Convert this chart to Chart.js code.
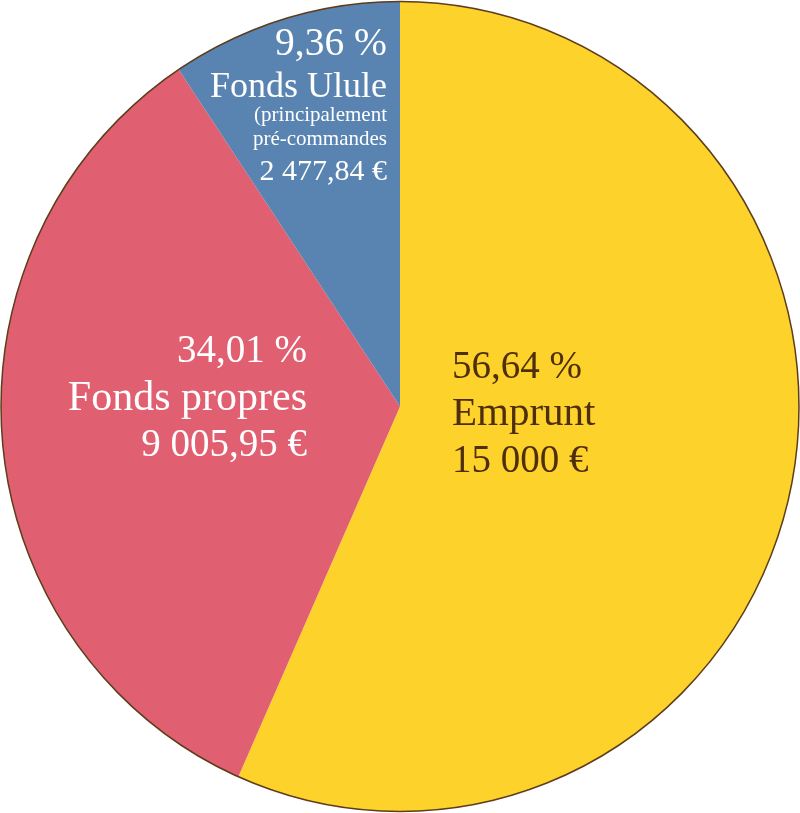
<!DOCTYPE html>
<html>
<head>
<meta charset="utf-8">
<script src="https://cdn.jsdelivr.net/npm/chart.js@4"></script>
<style>
  html, body { margin: 0; padding: 0; background: #ffffff; overflow: hidden; }
  #wrap { width: 800px; height: 813px; }
</style>
</head>
<body>
<div id="wrap"><canvas id="pie"></canvas></div>
<script>
// === Données ===
const categories = ["Emprunt", "Fonds propres", "Fonds Ulule"];
const amounts = [15000, 9005.95, 2477.84];
const percentTexts = ["56,64 %", "34,01 %", "9,36 %"];
const amountTexts = ["15 000 €", "9 005,95 €", "2 477,84 €"];
const ululeNote = ["(principalement", "pré-commandes"];

const colors = ["#fdd22a", "#e06072", "#5983b0"];
const outlineColor = "#5e3d1c";

// le camembert de l'original est un peu plus haut que large
const stretchY = 405 / 399;

const stretchPlugin = {
  id: "stretchY",
  beforeDatasetsDraw(chart) {
    const arc = chart.getDatasetMeta(0).data[0];
    const ctx = chart.ctx;
    ctx.save();
    ctx.translate(arc.x, arc.y);
    ctx.scale(1, stretchY);
    ctx.translate(-arc.x, -arc.y);
  },
  afterDatasetsDraw(chart) {
    chart.ctx.restore();
  },
};

// === Contour + étiquettes ===
const labelPlugin = {
  id: "pieLabels",
  afterDatasetsDraw(chart) {
    const arc = chart.getDatasetMeta(0).data[0];
    const cx = arc.x;
    const cy = arc.y;
    const r = arc.outerRadius;
    const ctx = chart.ctx;

    // contour extérieur seulement
    ctx.save();
    ctx.beginPath();
    ctx.ellipse(cx, cy, r, r * stretchY, 0, 0, Math.PI * 2);
    ctx.strokeStyle = outlineColor;
    ctx.lineWidth = 1.5;
    ctx.stroke();
    ctx.restore();

    const font = (px) => px + "px 'Liberation Serif', 'Times New Roman', serif";
    function line(text, x, y, px, color, align) {
      ctx.font = font(px);
      ctx.fillStyle = color;
      ctx.textAlign = align;
      ctx.textBaseline = "alphabetic";
      ctx.fillText(text, x, y);
    }

    ctx.save();
    // Emprunt
    line(percentTexts[0], cx + 52, cy - 28.5, 39, "#4f2e0c", "left");
    line(categories[0], cx + 52, cy + 18.5, 41, "#4f2e0c", "left");
    line(amountTexts[0], cx + 52, cy + 65.5, 39, "#4f2e0c", "left");

    // Fonds propres
    line(percentTexts[1], cx - 93, cy - 44.5, 39, "#ffffff", "right");
    line(categories[1], cx - 93, cy + 3.5, 42, "#ffffff", "right");
    line(amountTexts[1], cx - 93, cy + 49.5, 39, "#ffffff", "right");

    // Fonds Ulule
    line(percentTexts[2], cx - 13, cy - 351.5, 39.5, "#ffffff", "right");
    line(categories[2], cx - 13, cy - 309.5, 36, "#ffffff", "right");
    line(ululeNote[0], cx - 13, cy - 285.5, 21, "#ffffff", "right");
    line(ululeNote[1], cx - 13, cy - 261.5, 21, "#ffffff", "right");
    line(amountTexts[2], cx - 13, cy - 226.5, 30, "#ffffff", "right");
    ctx.restore();
  },
};

new Chart(document.getElementById("pie"), {
  type: "pie",
  data: {
    labels: categories,
    datasets: [
      {
        data: amounts,
        backgroundColor: colors,
        borderWidth: 0,
      },
    ],
  },
  options: {
    responsive: true,
    maintainAspectRatio: false,
    animation: false,
    events: [],
    layout: { padding: 1 },
    plugins: {
      legend: { display: false },
      tooltip: { enabled: false },
    },
  },
  plugins: [stretchPlugin, labelPlugin],
});
</script>
</body>
</html>
